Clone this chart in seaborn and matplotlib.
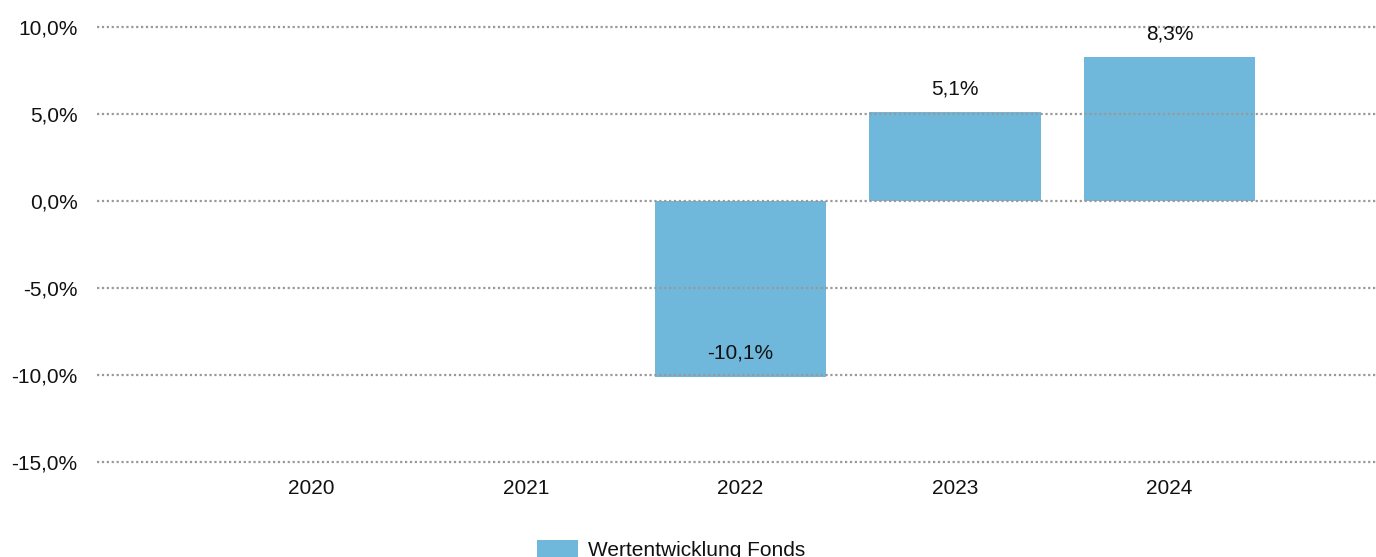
import matplotlib
matplotlib.use("Agg")
import matplotlib.pyplot as plt
import seaborn as sns
import pandas as pd
from matplotlib.patches import Patch

years = ["2020", "2021", "2022", "2023", "2024"]
bar_years = ["2022", "2023", "2024"]
values = [-10.1, 5.1, 8.3]
yticks = [-15, -10, -5, 0, 5, 10]
series_name = "Wertentwicklung Fonds"
bar_color = "#70B8DB"

sns.set_theme(style="white")
plt.rcParams["font.family"] = ["Liberation Sans", "DejaVu Sans"]

FS = 15
W, H = 1376, 557
fig = plt.figure(figsize=(W / 100, H / 100), dpi=100)
ax = fig.add_axes([97 / W, (H - 462) / H, (W - 97) / W, 435 / H])

df = pd.DataFrame({"year": bar_years, "value": values})
sns.barplot(data=df, x="year", y="value", order=years, color=bar_color,
            saturation=1, width=0.8, linewidth=0, ax=ax, zorder=2)

ax.set_ylim(-15, 10)
ax.set_xlim(-1, (W - 97) / 214.5 - 1)
ax.set_yticks(yticks)
ax.set_yticklabels([f"{v:.1f}%".replace(".", ",") for v in yticks], fontsize=FS, color="#111111")
ax.set_xticks(range(len(years)))
ax.set_xticklabels(years, fontsize=FS, color="#111111")
ax.tick_params(axis="y", length=0, pad=14)
ax.tick_params(axis="x", length=0, pad=12.5)
ax.set_xlabel("")
ax.set_ylabel("")
for s in ax.spines.values():
    s.set_visible(False)
ax.yaxis.grid(True, linestyle=(0, (1, 1.2)), color="#999999", linewidth=1.6)
ax.set_axisbelow(False)
for gl in ax.get_ygridlines():
    gl.set_clip_on(False)
    gl.set_zorder(3)

for yr, v in zip(bar_years, values):
    xi = years.index(yr)
    txt = f"{v:.1f}%".replace(".", ",")
    off = 23 if v >= 0 else 24
    ax.annotate(txt, (xi, v), xytext=(0, off * 0.72), textcoords="offset points",
                ha="center", va="center", fontsize=FS, color="#111111", zorder=5)

handle = Patch(facecolor=bar_color, edgecolor="none")
fig.legend([handle], [series_name], loc="upper left",
           bbox_to_anchor=(522 / W, 1 - 525 / H), frameon=False, fontsize=FS,
           handlelength=2.0, handleheight=1.0, handletextpad=0.45, borderpad=0.2,
           labelcolor="#111111")

fig.savefig("out.png", dpi=100)
